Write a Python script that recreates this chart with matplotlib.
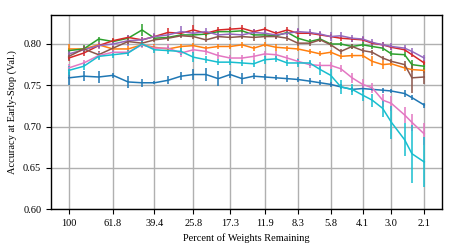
import matplotlib
matplotlib.use("Agg")
import matplotlib.pyplot as plt
from matplotlib.ticker import FixedLocator, FixedFormatter, NullLocator

plt.rcParams['font.family'] = ['Liberation Serif', 'DejaVu Serif']

percent = [100, 85.0, 72.3, 61.8, 52.5, 45.1, 39.4, 34.0, 29.5, 25.8, 22.5, 19.7,
           17.3, 15.2, 13.4, 11.9, 10.5, 9.3, 8.3, 7.3, 6.5, 5.8, 5.2, 4.6, 4.1,
           3.7, 3.3, 3.0, 2.6, 2.4, 2.1]

tick_values = [100, 61.8, 39.4, 25.8, 17.3, 11.9, 8.3, 5.8, 4.1, 3.0, 2.1]
tick_labels = ["100", "61.8", "39.4", "25.8", "17.3", "11.9", "8.3", "5.8", "4.1", "3.0", "2.1"]

acc_blue = [0.759, 0.761, 0.760, 0.762, 0.754, 0.753, 0.753, 0.756, 0.761, 0.763, 0.763,
            0.758, 0.763, 0.758, 0.761, 0.760, 0.759, 0.758, 0.757, 0.755, 0.753, 0.751,
            0.748, 0.745, 0.746, 0.745, 0.744, 0.743, 0.740, 0.735, 0.726]
err_blue = [0.009, 0.006, 0.007, 0.003, 0.007, 0.005, 0.002, 0.005, 0.005, 0.007, 0.008,
            0.009, 0.004, 0.007, 0.004, 0.004, 0.003, 0.004, 0.003, 0.004, 0.003, 0.003,
            0.003, 0.003, 0.004, 0.002, 0.003, 0.002, 0.004, 0.003, 0.003]

acc_orange = [0.794, 0.794, 0.799, 0.794, 0.794, 0.799, 0.796, 0.794, 0.797, 0.798, 0.795,
              0.797, 0.797, 0.799, 0.795, 0.799, 0.796, 0.795, 0.794, 0.791, 0.788, 0.790,
              0.785, 0.786, 0.786, 0.779, 0.775, 0.776, 0.771, 0.769, 0.768]
err_orange = [0.006, 0.003, 0.003, 0.003, 0.003, 0.003, 0.004, 0.003, 0.003, 0.003, 0.003,
              0.003, 0.003, 0.004, 0.003, 0.003, 0.004, 0.003, 0.003, 0.003, 0.003, 0.003,
              0.003, 0.003, 0.003, 0.006, 0.005, 0.003, 0.004, 0.003, 0.003]

acc_green = [0.792, 0.794, 0.806, 0.803, 0.807, 0.817, 0.807, 0.808, 0.811, 0.811, 0.812,
             0.815, 0.815, 0.816, 0.811, 0.811, 0.810, 0.814, 0.807, 0.803, 0.806, 0.800,
             0.800, 0.797, 0.799, 0.797, 0.795, 0.788, 0.787, 0.775, 0.773]
err_green = [0.003, 0.005, 0.003, 0.003, 0.003, 0.007, 0.003, 0.003, 0.003, 0.003, 0.003,
             0.003, 0.003, 0.003, 0.003, 0.003, 0.003, 0.003, 0.003, 0.003, 0.003, 0.003,
             0.003, 0.003, 0.003, 0.003, 0.003, 0.003, 0.003, 0.005, 0.004]

acc_red = [0.783, 0.789, 0.798, 0.804, 0.808, 0.805, 0.809, 0.814, 0.813, 0.817, 0.813,
           0.817, 0.818, 0.819, 0.815, 0.818, 0.813, 0.817, 0.813, 0.813, 0.811, 0.809,
           0.807, 0.806, 0.805, 0.801, 0.799, 0.796, 0.793, 0.787, 0.777]
err_red = [0.004, 0.004, 0.003, 0.003, 0.003, 0.003, 0.003, 0.005, 0.003, 0.006, 0.003,
           0.003, 0.003, 0.004, 0.003, 0.003, 0.003, 0.003, 0.005, 0.003, 0.003, 0.003,
           0.003, 0.003, 0.003, 0.003, 0.004, 0.003, 0.003, 0.003, 0.003]

acc_purple = [0.788, 0.793, 0.798, 0.800, 0.804, 0.805, 0.809, 0.811, 0.815, 0.813, 0.815,
              0.811, 0.812, 0.811, 0.814, 0.813, 0.811, 0.813, 0.815, 0.814, 0.812, 0.809,
              0.810, 0.807, 0.806, 0.802, 0.799, 0.797, 0.795, 0.791, 0.783]
err_purple = [0.004, 0.005, 0.004, 0.004, 0.007, 0.004, 0.004, 0.004, 0.007, 0.004, 0.004,
              0.006, 0.004, 0.004, 0.004, 0.004, 0.005, 0.004, 0.004, 0.004, 0.004, 0.005,
              0.004, 0.004, 0.004, 0.004, 0.004, 0.004, 0.004, 0.004, 0.004]

acc_brown = [0.785, 0.794, 0.787, 0.795, 0.803, 0.801, 0.805, 0.807, 0.810, 0.809, 0.805,
             0.809, 0.808, 0.809, 0.808, 0.809, 0.809, 0.807, 0.801, 0.801, 0.805, 0.799,
             0.791, 0.797, 0.792, 0.790, 0.783, 0.779, 0.775, 0.759, 0.760]
err_brown = [0.004, 0.004, 0.004, 0.003, 0.003, 0.003, 0.003, 0.003, 0.003, 0.003, 0.003,
             0.003, 0.003, 0.003, 0.004, 0.003, 0.003, 0.003, 0.003, 0.003, 0.003, 0.003,
             0.003, 0.003, 0.003, 0.003, 0.003, 0.003, 0.004, 0.018, 0.008]

acc_pink = [0.771, 0.777, 0.786, 0.790, 0.790, 0.799, 0.795, 0.795, 0.789, 0.793, 0.791,
            0.786, 0.783, 0.783, 0.785, 0.788, 0.787, 0.783, 0.779, 0.775, 0.774, 0.774,
            0.770, 0.759, 0.751, 0.747, 0.732, 0.728, 0.714, 0.705, 0.691]
err_pink = [0.005, 0.004, 0.004, 0.004, 0.004, 0.004, 0.004, 0.005, 0.005, 0.004, 0.004,
            0.004, 0.004, 0.004, 0.004, 0.004, 0.004, 0.004, 0.004, 0.004, 0.004, 0.004,
            0.004, 0.006, 0.007, 0.006, 0.008, 0.009, 0.010, 0.010, 0.013]

acc_cyan = [0.768, 0.773, 0.785, 0.787, 0.789, 0.800, 0.793, 0.792, 0.791, 0.784, 0.781,
            0.778, 0.778, 0.777, 0.776, 0.781, 0.782, 0.777, 0.777, 0.777, 0.769, 0.762,
            0.748, 0.745, 0.738, 0.732, 0.722, 0.705, 0.684, 0.667, 0.657]
err_cyan = [0.005, 0.004, 0.004, 0.004, 0.004, 0.004, 0.004, 0.004, 0.004, 0.006, 0.004,
            0.004, 0.004, 0.004, 0.004, 0.005, 0.004, 0.004, 0.005, 0.004, 0.006, 0.008,
            0.008, 0.007, 0.007, 0.008, 0.010, 0.020, 0.020, 0.035, 0.030]

series = [
    (acc_blue, err_blue, "#1f77b4"),
    (acc_orange, err_orange, "#ff7f0e"),
    (acc_green, err_green, "#2ca02c"),
    (acc_red, err_red, "#d62728"),
    (acc_purple, err_purple, "#9467bd"),
    (acc_brown, err_brown, "#8c564b"),
    (acc_pink, err_pink, "#e377c2"),
    (acc_cyan, err_cyan, "#17becf"),
]

fig = plt.figure(figsize=(4.57, 2.52), dpi=100)
ax = fig.add_axes([0.1116, 0.1706, 0.8556, 0.7694])

for acc, err, color in series:
    ax.errorbar(percent, acc, yerr=err, color=color, lw=1.1, elinewidth=1.1, capsize=0)

ax.set_xscale('log')
ax.invert_xaxis()
ax.xaxis.set_major_locator(FixedLocator(tick_values))
ax.xaxis.set_major_formatter(FixedFormatter(tick_labels))
ax.xaxis.set_minor_locator(NullLocator())
ax.set_ylim(0.6, 0.835)
ax.set_yticks([0.60, 0.65, 0.70, 0.75, 0.80])
ax.set_yticklabels(["0.60", "0.65", "0.70", "0.75", "0.80"])
ax.grid(True, color="#b0b0b0", lw=1.0)
ax.set_axisbelow(True)
ax.tick_params(labelsize=7.5, length=3.5, width=0.8)
for s in ax.spines.values():
    s.set_linewidth(1.0)
ax.set_xlabel("Percent of Weights Remaining", fontsize=7.5)
ax.set_ylabel("Accuracy at Early-Stop (Val.)", fontsize=7.5)

fig.savefig("out.png", dpi=100)
